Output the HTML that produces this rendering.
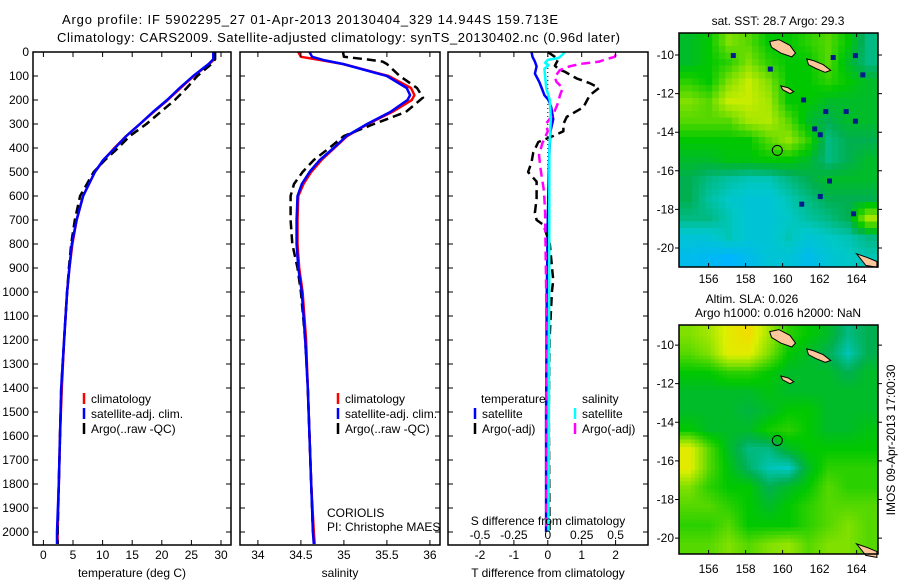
<!DOCTYPE html>
<html><head><meta charset="utf-8"><style>
body{margin:0;background:#fff}
svg{display:block;font-family:"Liberation Sans",sans-serif}
text{font-size:12px;fill:#000}
</style></head><body>
<svg id="fig" width="900" height="580" viewBox="0 0 900 580" xmlns="http://www.w3.org/2000/svg">
<rect width="900" height="580" fill="#fff"/>
<text x="62" y="24" style="font-size:13px" textLength="496">Argo profile: IF 5902295_27 01-Apr-2013 20130404_329 14.944S 159.713E</text>
<text x="57" y="42" style="font-size:13px" textLength="563">Climatology: CARS2009. Satellite-adjusted climatology: synTS_20130402.nc (0.96d later)</text>
<g id="p1"></g>
<g id="p2"></g>
<g id="p3"></g>
<g id="m1"></g>
<g id="m2"></g>
<text x="778" y="25" text-anchor="middle">sat. SST: 28.7 Argo: 29.3</text>
<text x="752" y="303" text-anchor="middle">Altim. SLA: 0.026</text>
<text x="778" y="317" text-anchor="middle">Argo h1000: 0.016 h2000: NaN</text>
<text transform="translate(895,440) rotate(-90)" text-anchor="middle">IMOS 09-Apr-2013 17:00:30</text>
</svg>
<script>
// ---------- data ----------
const tDepth=[0,30,50,100,150,200,250,300,350,400,450,500,600,700,800,900,1000,1200,1400,1600,1800,2000,2050];
const tClim=[28.9,28.9,28.0,25.4,23.2,21.0,18.6,16.3,14.0,12.0,10.2,8.7,6.7,5.6,4.9,4.4,4.0,3.5,3.1,2.8,2.6,2.4,2.4];
const tSat=[28.7,28.7,27.9,25.3,23.0,20.9,18.5,16.3,14.0,12.1,10.1,8.7,6.7,5.6,4.8,4.4,4.0,3.5,3.0,2.8,2.6,2.3,2.3];
const tArgo=[29.0,29.0,28.4,26.0,24.2,22.2,19.8,17.4,14.6,12.6,10.4,8.5,6.2,5.3,4.7,4.3,4.0,3.5,3.0,2.8,2.6,2.4,2.4];
const sDepth=[0,20,35,50,100,150,180,200,250,300,350,400,450,500,550,600,700,800,900,1000,1200,1400,1600,1800,2000,2050];
const sSat=[34.6,34.63,34.78,34.99,35.5,35.73,35.77,35.74,35.54,35.27,35.03,34.88,34.72,34.6,34.51,34.46,34.45,34.45,34.47,34.51,34.55,34.58,34.6,34.62,34.64,34.65];
const sClim=[34.47,34.5,34.75,34.99,35.52,35.78,35.82,35.79,35.56,35.28,35.04,34.89,34.74,34.62,34.53,34.47,34.46,34.46,34.48,34.52,34.56,34.58,34.6,34.62,34.65,34.66];
const sArgoDepth=[0,20,30,40,50,100,150,190,250,300,350,400,450,500,550,600,700,800,900,1000,1200,1400,1600,1800,2000];
const sArgo=[34.99,35.0,35.25,35.45,35.5,35.65,35.85,35.92,35.72,35.35,35.0,34.83,34.65,34.52,34.42,34.38,34.38,34.4,34.46,34.5,34.55,34.58,34.6,34.62,34.64];
const dtSatDepth=[0,20,40,60,90,125,150,180,200,230,280,330,400,500,700,1000,1500,2000];
const dtSat=[-0.48,-0.45,-0.38,-0.33,-0.38,-0.25,-0.18,-0.1,0.02,0.1,0.16,0.08,0.05,0.03,0.0,-0.03,-0.05,-0.05];
const dtArgoDepth=[0,30,57,70,83,110,130,150,180,230,270,300,330,350,375,420,460,500,540,610,670,700,720,800,875,950,1000,1200,1500,2000];
const dtArgo=[0,0.31,0.21,0.31,0.51,0.85,1.24,1.51,1.24,1.05,0.56,0.46,0.46,0.16,-0.28,-0.43,-0.48,-0.58,-0.33,-0.33,-0.38,-0.33,-0.13,0.06,0.11,0.16,0.12,0.05,0.03,0.05];
const dsSatDepth=[0,10,25,33,45,55,70,150,200,280,400,1000,2000];
const dsSat=[0.125,0.11,0.08,0.0,-0.02,0.005,-0.025,-0.012,0.015,0.022,0.012,0.01,0.005];
const dsArgoDepth=[10,20,30,40,50,60,75,105,125,150,180,220,260,300,330,380,430,500,580,670,1000,1500,2000];
const dsArgo=[0.5,0.495,0.43,0.38,0.235,0.16,0.09,0.05,0.065,0.11,0.09,0.07,0.04,-0.015,0.0,-0.04,-0.065,-0.05,-0.028,-0.02,-0.012,-0.01,-0.01];
const depthTicks=[0,100,200,300,400,500,600,700,800,900,1000,1100,1200,1300,1400,1500,1600,1700,1800,1900,2000];
const tempTicks=[0,5,10,15,20,25,30];
const salTicks=[34,34.5,35,35.5,36];
const tdTicks=[-2,-1,0,1,2];
const sdTicks=[-0.5,-0.25,0,0.25,0.5];
const sstGrid=[
[0.55,0.6,0.75,0.7,0.6,0.6,0.65,0.7,0.6,0.45],
[0.55,0.6,0.65,0.75,0.65,0.6,0.6,0.7,0.55,0.45],
[0.65,0.6,0.75,0.85,0.75,0.6,0.6,0.65,0.6,0.55],
[0.75,0.7,0.85,0.85,0.8,0.6,0.6,0.55,0.55,0.55],
[0.7,0.7,0.7,0.8,0.82,0.7,0.55,0.5,0.55,0.55],
[0.6,0.6,0.6,0.6,0.7,0.78,0.65,0.45,0.5,0.5],
[0.55,0.55,0.58,0.58,0.6,0.6,0.55,0.45,0.5,0.55],
[0.5,0.45,0.42,0.4,0.4,0.45,0.5,0.55,0.55,0.55],
[0.5,0.42,0.38,0.35,0.35,0.4,0.45,0.5,0.5,0.5],
[0.45,0.45,0.4,0.35,0.35,0.38,0.42,0.45,0.5,0.8],
[0.35,0.35,0.4,0.35,0.35,0.4,0.35,0.38,0.4,0.45],
[0.3,0.28,0.25,0.3,0.35,0.35,0.3,0.35,0.38,0.4]];
const slaGrid=[
[0.75,0.8,0.9,0.95,0.8,0.65,0.6,0.55,0.45,0.5],
[0.7,0.75,0.9,0.9,0.75,0.6,0.55,0.5,0.4,0.5],
[0.6,0.6,0.65,0.65,0.6,0.55,0.55,0.55,0.5,0.55],
[0.55,0.55,0.55,0.55,0.58,0.55,0.55,0.55,0.55,0.55],
[0.55,0.55,0.55,0.52,0.55,0.6,0.6,0.55,0.55,0.55],
[0.6,0.55,0.55,0.55,0.62,0.65,0.6,0.55,0.55,0.58],
[0.9,0.7,0.55,0.45,0.45,0.55,0.6,0.6,0.6,0.6],
[0.9,0.7,0.58,0.48,0.4,0.38,0.55,0.65,0.65,0.65],
[0.75,0.65,0.6,0.6,0.5,0.55,0.6,0.7,0.65,0.65],
[0.7,0.7,0.65,0.6,0.55,0.6,0.65,0.7,0.7,0.7],
[0.65,0.65,0.7,0.6,0.6,0.6,0.65,0.7,0.75,0.7],
[0.7,0.7,0.75,0.7,0.75,0.78,0.7,0.75,0.75,0.7]];
const speckLon=[157.2,159.2,162.6,163.8,164.2,161.0,162.2,163.3,161.6,161.9,163.8,162.4,160.9,161.9,163.7];
const speckLat=[-9.9,-10.6,-10.0,-9.9,-10.9,-12.2,-12.8,-12.8,-13.7,-14.0,-13.3,-16.4,-17.6,-17.2,-18.1];
const lonTicks=[156,158,160,162,164];
const latTicks=[-10,-12,-14,-16,-18,-20];
const isl1Lon=[159.3,159.8,160.4,160.7,160.5,159.9,159.4];
const isl1Lat=[-9.3,-9.2,-9.5,-9.9,-10.1,-9.9,-9.6];
const isl2Lon=[161.3,161.7,162.2,162.6,162.3,161.8,161.4];
const isl2Lat=[-10.2,-10.3,-10.5,-10.8,-10.9,-10.7,-10.5];
const isl3Lon=[159.9,160.3,160.6,160.4,160.0];
const isl3Lat=[-11.6,-11.7,-11.9,-12.0,-11.8];
const isl4Lon=[164.0,164.6,165.1,165.1,164.5];
const isl4Lat=[-20.3,-20.5,-20.7,-21.0,-20.9];
const argoLon=159.713, argoLat=-14.944;

// ---------- helpers ----------
const NS='http://www.w3.org/2000/svg';
function mk(parent,tag,attrs){const e=document.createElementNS(NS,tag);for(const k in attrs)e.setAttribute(k,attrs[k]);parent.appendChild(e);return e;}
const top0=52, bot=545;
const yD=d=>top0+0.24*d;
const xT=t=>43.4+5.92*t;
const xS=s=>257.9+86*(s-34);
const xDT=t=>547.8+33.9*t;
const xDS=s=>547.8+33.9*4*s;

function frame(g,x0,x1,name){
  const r=mk(g,'rect',{x:x0,y:top0,width:x1-x0,height:bot-top0,fill:'none',stroke:'#000','stroke-width':1.5});
  
  
  depthTicks.forEach(d=>{
    const l=mk(g,'path',{d:`M${x0},${yD(d)}h5M${x1},${yD(d)}h-5`,stroke:'#000','stroke-width':1});
    
    
  });
}
function xticks(g,ticks,fx,labelY,name){
  ticks.forEach(v=>{
    const x=fx(v);
    const l=mk(g,'path',{d:`M${x},${bot}v-5M${x},${top0}v5`,stroke:'#000','stroke-width':1});
    
    
    const t=mk(g,'text',{x:x,y:labelY,'text-anchor':'middle'});t.textContent=String(v);
    
    
  });
}
function line(g,xs,ds,fx,color,dash,name){
  const pts=xs.map((v,i)=>fx(v).toFixed(1)+','+yD(ds[i]).toFixed(1)).join(' ');
  const p=mk(g,'polyline',{points:pts,fill:'none',stroke:color,'stroke-width':2.5,'stroke-linejoin':'round'});
  if(dash)p.setAttribute('stroke-dasharray',dash);
  
  
}
function legend(g,x,y,color,label,name){
  const l=mk(g,'line',{x1:x,y1:y-10,x2:x,y2:y+1,stroke:color,'stroke-width':2.5});
  
  
  const t=mk(g,'text',{x:x+7,y:y});t.textContent=label;
  
  
}
function txt(g,x,y,s,name,anchor){const t=mk(g,'text',{x:x,y:y,'text-anchor':anchor||'start'});t.textContent=s;
  
  return t;}

// ---------- panel 1 ----------
const p1=document.getElementById('p1');
line(p1,tClim,tDepth,xT,'#f00',null,'temp-climatology-line');
line(p1,tArgo,tDepth,xT,'#000','9,5','temp-argo-line');
line(p1,tSat,tDepth,xT,'#00f',null,'temp-satellite-line');
frame(p1,33,231,'temperature');
depthTicks.forEach(d=>{txt(p1,29,yD(d)+4,String(d),'depth-tick-label','end');});
xticks(p1,tempTicks,xT,559,'temperature');
txt(p1,132,577,'temperature (deg C)','temperature-axis-title','middle');
legend(p1,84,403,'#f00','climatology','temp-legend-climatology');
legend(p1,84,418,'#00f','satellite-adj. clim.','temp-legend-satellite');
legend(p1,84,433,'#000','Argo(..raw -QC)','temp-legend-argo');

// ---------- panel 2 ----------
const p2=document.getElementById('p2');
line(p2,sClim,sDepth,xS,'#f00',null,'sal-climatology-line');
line(p2,sArgo,sArgoDepth,xS,'#000','9,5','sal-argo-line');
line(p2,sSat,sDepth,xS,'#00f',null,'sal-satellite-line');
frame(p2,240,440,'salinity');
xticks(p2,salTicks,xS,559,'salinity');
txt(p2,340,577,'salinity','salinity-axis-title','middle');
legend(p2,338,403,'#f00','climatology','sal-legend-climatology');
legend(p2,338,418,'#00f','satellite-adj. clim.','sal-legend-satellite');
legend(p2,338,433,'#000','Argo(..raw -QC)','sal-legend-argo');
txt(p2,327,517,'CORIOLIS','data-centre-label');
txt(p2,327,531,'PI: Christophe MAES','pi-label');

// ---------- panel 3 ----------
const p3=document.getElementById('p3');
mk(p3,'line',{x1:xDT(0),y1:top0,x2:xDT(0),y2:yD(500),stroke:'#000','stroke-width':1,'stroke-dasharray':'1,3'});
line(p3,dtSat,dtSatDepth,xDT,'#00f',null,'dt-satellite-line');
line(p3,dtArgo,dtArgoDepth,xDT,'#000','9,5','dt-argo-line');
line(p3,dsArgo,dsArgoDepth,xDS,'#f0f','9,5','ds-argo-line');
line(p3,dsSat,dsSatDepth,xDS,'#0ff',null,'ds-satellite-line');
frame(p3,448,648,'difference');
xticks(p3,tdTicks,xDT,559,'t-difference');
sdTicks.forEach(v=>txt(p3,xDS(v),539,String(v),'s-difference-tick-label','middle'));
txt(p3,548,525,'S difference from climatology','s-difference-axis-title','middle');
txt(p3,548,577,'T difference from climatology','t-difference-axis-title','middle');
txt(p3,481,403,'temperature','dt-legend-heading');
txt(p3,582,403,'salinity','ds-legend-heading');
legend(p3,475,418,'#00f','satellite','dt-legend-satellite');
legend(p3,475,433,'#000','Argo(-adj)','dt-legend-argo');
legend(p3,575,418,'#0ff','satellite','ds-legend-satellite');
legend(p3,575,433,'#f0f','Argo(-adj)','ds-legend-argo');

// ---------- maps ----------
const stops=[[0,[0,90,255]],[0.25,[0,180,255]],[0.38,[0,200,200]],[0.5,[0,176,80]],[0.6,[0,200,0]],[0.75,[128,224,0]],[0.88,[220,240,0]],[1,[255,205,0]]];
function col(v){for(let i=1;i<stops.length;i++){if(v<=stops[i][0]){const a=stops[i-1],b=stops[i];const f=(v-a[0])/(b[0]-a[0]);const c=a[1].map((x,k)=>Math.round(x+(b[1][k]-x)*f));return `rgb(${c})`;}}return 'rgb(255,205,0)';}
function sample(grid,fi,fj){
  const R=grid.length,C=grid[0].length;
  const i=Math.min(Math.max(fi-0.5,0),R-1),j=Math.min(Math.max(fj-0.5,0),C-1);
  const i0=Math.floor(i),j0=Math.floor(j),i1=Math.min(i0+1,R-1),j1=Math.min(j0+1,C-1),a=i-i0,b=j-j0;
  return grid[i0][j0]*(1-a)*(1-b)+grid[i0][j1]*(1-a)*b+grid[i1][j0]*a*(1-b)+grid[i1][j1]*a*b;
}
function map(id,x0,y0,x1,y1,latTop,grid,lab,speck,sub){
  const g=document.getElementById(id);
  const lonMin=154.4,ppd=18.5,ppl=19.3;
  const X=lon=>x0+(lon-lonMin)*ppd;
  const Y=lat=>y0+(latTop-lat)*ppl;
  const rows=grid.length*sub,cols=grid[0].length*sub,cw=(x1-x0)/cols,ch=(y1-y0)/rows;
  for(let i=0;i<rows;i++)for(let j=0;j<cols;j++){
    const v=sub>1?sample(grid,(i+0.5)/sub,(j+0.5)/sub):grid[i][j];
    const c=mk(g,'rect',{x:(x0+j*cw).toFixed(2),y:(y0+i*ch).toFixed(2),width:(cw+0.5).toFixed(2),height:(ch+0.5).toFixed(2),fill:col(v)});
    
    
  }
  if(speck){speckLon.forEach((lo,i)=>{const s=mk(g,'rect',{x:X(lo),y:Y(speckLat[i]),width:5,height:5,fill:'#001a8c'});
    
    });}
  [[isl1Lon,isl1Lat],[isl2Lon,isl2Lat],[isl3Lon,isl3Lat],[isl4Lon,isl4Lat]].forEach(([lo,la])=>{
    const p=mk(g,'polygon',{points:lo.map((v,i)=>X(v).toFixed(1)+','+Y(la[i]).toFixed(1)).join(' '),fill:'#fcc89b',stroke:'#000','stroke-width':1});
    
    
  });
  const c=mk(g,'circle',{cx:X(argoLon),cy:Y(argoLat),r:5,fill:'none',stroke:'#000','stroke-width':1});
  
  
  const f=mk(g,'rect',{x:x0,y:y0,width:x1-x0,height:y1-y0,fill:'none',stroke:'#000','stroke-width':1.5});
  
  
  lonTicks.forEach(v=>{const x=X(v);mk(g,'path',{d:`M${x},${y1}v-4M${x},${y0}v4`,stroke:'#000'});
    txt(g,x,lab,String(v),'lon-tick-label','middle');});
  latTicks.forEach(v=>{const y=Y(v);mk(g,'path',{d:`M${x0},${y}h-4M${x1},${y}h4`,stroke:'#000'});
    txt(g,x0-5,y+4,String(v),'lat-tick-label','end');});
}
map('m1',679,33,878,267,-8.86,sstGrid,283,true,3);
map('m2',679,325,878,554,-8.96,slaGrid,573,false,5);
</script>
</body></html>
